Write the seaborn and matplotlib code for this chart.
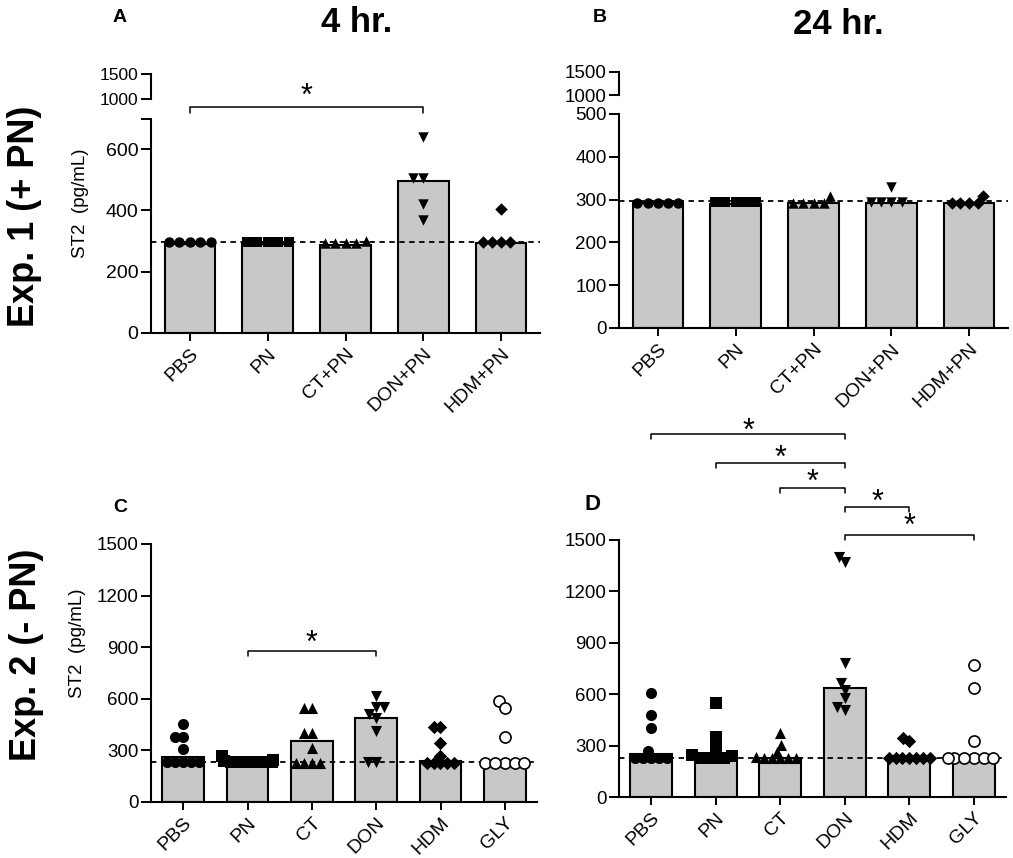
import matplotlib
matplotlib.use("Agg")
import matplotlib.pyplot as plt
import seaborn as sns

sns.set_style("ticks")
plt.rcParams["font.family"] = ["Liberation Sans", "DejaVu Sans"]
plt.rcParams.update({"text.color": "black", "axes.labelcolor": "black",
                     "xtick.color": "black", "ytick.color": "black",
                     "axes.edgecolor": "black"})

# ---------------- data ----------------
cats_exp1 = ["PBS", "PN", "CT+PN", "DON+PN", "HDM+PN"]
cats_exp2 = ["PBS", "PN", "CT", "DON", "HDM", "GLY"]

# Panel A (Exp. 1, 4 hr)
a_bars = [291, 290, 288, 497, 292]
a_pbs = [297, 297, 297, 297, 297]
a_pn = [297, 297, 297, 297, 297]
a_ct = [300, 293, 293, 293, 293]
a_don = [640, 505, 505, 420, 368]
a_hdm = [403, 297, 297, 297, 297]
a_baseline = 297

# Panel B (Exp. 1, 24 hr)
b_bars = [293, 290, 293, 293, 293]
b_pbs = [293, 293, 293, 293, 293]
b_pn = [295, 295, 295, 295, 295]
b_ct = [308, 291, 291, 291, 291]
b_don = [330, 295, 295, 295, 295]
b_hdm = [308, 293, 293, 293, 293]
b_baseline = 297

# Panel C (Exp. 2, 4 hr)
c_bars = [262, 245, 355, 488, 238, 235]
c_pbs = [453, 378, 378, 308, 232, 232, 232, 232, 232]
c_pn = [270, 245, 240, 235, 235, 232, 232, 232, 232]
c_ct = [545, 545, 400, 400, 314, 227, 227, 227, 227]
c_don = [616, 550, 550, 512, 488, 413, 232, 232]
c_hdm = [438, 438, 343, 267, 227, 227, 227, 227, 227]
c_gly = [589, 547, 378, 228, 228, 228, 228, 228]
c_baseline = 235

# Panel D (Exp. 2, 24 hr)
d_bars = [249, 240, 230, 635, 232, 232]
d_pbs = [605, 479, 401, 270, 230, 230, 230, 230, 230]
d_pn = [547, 352, 278, 245, 240, 230, 230, 230, 230]
d_ct = [375, 303, 265, 235, 225, 225, 225, 225, 225]
d_don = [1403, 1370, 780, 664, 625, 580, 527, 508]
d_hdm = [346, 329, 230, 230, 230, 230, 230, 230, 230]
d_gly = [770, 635, 329, 230, 230, 230, 230, 230, 230]
d_baseline = 230

# significance comparisons (category index pairs)
a_sig = [(0, 3)]
c_sig = [(1, 3)]
d_sig = [(0, 3), (1, 3), (2, 3), (3, 4), (3, 5)]

# ---------------- figure ----------------
W, H = 1013, 858
fig = plt.figure(figsize=(W / 100, H / 100), dpi=100)


def px_axes(left, right, top, bottom):
    return fig.add_axes([left / W, 1 - bottom / H, (right - left) / W, (bottom - top) / H])


markers = ["o", "s", "^", "v", "D", "o"]
BAR_COLOR = "#c8c8c8"
swarm_scale = []  # (collection, factor) pairs to enlarge markers after swarm layout


def style_axes(ax, fs, xfs=14):
    sns.despine(ax=ax)
    for s in ("left", "bottom"):
        ax.spines[s].set_linewidth(1.5)
    ax.tick_params(axis="y", length=7, width=1.4, labelsize=fs, direction="out", pad=2)
    ax.tick_params(axis="x", length=6, width=1.4, labelsize=xfs, direction="out", pad=3)


def draw_panel(ax, cats, bars, groups, baseline, layout_size, render_size):
    sns.barplot(x=cats, y=bars, order=cats, color=BAR_COLOR, edgecolor="black",
                linewidth=1.5, width=0.65, saturation=1, ax=ax, zorder=1)
    ax.axhline(baseline, color="black", lw=1.3, ls=(0, (3, 2.5)), zorder=3)
    for i, (cat, vals) in enumerate(zip(cats, groups)):
        m = markers[i]
        shrink = 0.85 if m == "D" else 1.0
        n_before = len(ax.collections)
        if cat == "GLY":
            sns.swarmplot(x=[cat] * len(vals), y=vals, order=cats, marker="o",
                          color="white", edgecolor="black", linewidth=1.2,
                          size=layout_size * shrink, ax=ax, warn_thresh=1, zorder=4)
        else:
            sns.swarmplot(x=[cat] * len(vals), y=vals, order=cats, marker=m,
                          color="black", size=layout_size * shrink, ax=ax,
                          warn_thresh=1, zorder=4)
        for coll in ax.collections[n_before:]:
            swarm_scale.append((coll, render_size / layout_size))
    ax.set_xlim(-0.5, len(cats) - 0.5)
    ax.set_xlabel("")
    ax.set_ylabel("")
    ax.set_xticks(range(len(cats)))
    ax.set_xticklabels(cats, rotation=45, ha="right", rotation_mode="anchor")


def bracket(ax, x1, x2, y, h, ystar):
    ax.plot([x1, x1, x2, x2], [y - h, y, y, y - h], color="black", lw=1.1,
            clip_on=False, zorder=5)
    ax.text((x1 + x2) / 2, ystar, "*", ha="center", va="center", fontsize=22,
            clip_on=False)


def upper_break(ax_low, left, right, top, bottom, fs):
    axu = px_axes(left, right, top, bottom)
    axu.set_ylim(1000, 1500)
    axu.set_yticks([1000, 1500])
    axu.set_xlim(ax_low.get_xlim())
    axu.set_xticks([])
    for s in ("top", "right", "bottom"):
        axu.spines[s].set_visible(False)
    axu.spines["left"].set_linewidth(1.5)
    axu.tick_params(axis="y", length=7, width=1.4, labelsize=fs, pad=2)
    axu.patch.set_alpha(0)
    return axu


# Panel A
axA = px_axes(151, 540, 118.7, 332.7)
draw_panel(axA, cats_exp1, a_bars, [a_pbs, a_pn, a_ct, a_don, a_hdm], a_baseline, 7.2, 7.5)
axA.set_ylim(0, 700)
axA.set_yticks([0, 200, 400, 600, 700])
axA.set_yticklabels(["0", "200", "400", "600", ""])
style_axes(axA, 14)
upper_break(axA, 151, 540, 74, 99, 12.5)
for x1, x2 in a_sig:
    bracket(axA, x1, x2, 738, 20, 770)

# Panel B
axB = px_axes(619, 1008, 114, 328)
draw_panel(axB, cats_exp1, b_bars, [b_pbs, b_pn, b_ct, b_don, b_hdm], b_baseline, 7.0, 7.5)
axB.set_ylim(0, 500)
axB.set_yticks([0, 100, 200, 300, 400, 500])
style_axes(axB, 13.5)
upper_break(axB, 619, 1008, 72, 95, 13.5)

# Panel C
axC = px_axes(151, 537, 544, 802)
draw_panel(axC, cats_exp2, c_bars, [c_pbs, c_pn, c_ct, c_don, c_hdm, c_gly], c_baseline, 5.5, 8)
axC.set_ylim(0, 1500)
axC.set_yticks([0, 300, 600, 900, 1200, 1500])
style_axes(axC, 13.5)
for x1, x2 in c_sig:
    bracket(axC, x1, x2, 878, 28, 918)

# Panel D
axD = px_axes(619, 1006, 540, 797)
draw_panel(axD, cats_exp2, d_bars, [d_pbs, d_pn, d_ct, d_don, d_hdm, d_gly], d_baseline, 5.5, 8)
axD.set_ylim(0, 1500)
axD.set_yticks([0, 300, 600, 900, 1200, 1500])
style_axes(axD, 13.5)
d_levels = [(2119, 2131), (1950, 1975), (1804, 1833), (1693, 1716), (1529, 1576)]
for (x1, x2), (y, ys) in zip(d_sig, d_levels):
    bracket(axD, x1, x2, y, 30, ys)

# ---------------- texts ----------------
def ftext(x, y, s, **kw):
    fig.text(x / W, 1 - y / H, s, **kw)


ftext(120, 18, "A", fontsize=14, fontweight="bold", ha="center", va="center")
ftext(600, 18, "B", fontsize=14, fontweight="bold", ha="center", va="center")
ftext(120, 507, "C", fontsize=14, fontweight="bold", ha="center", va="center")
ftext(592, 505, "D", fontsize=16, fontweight="bold", ha="center", va="center")
ftext(357, 22, "4 hr.", fontsize=25, fontweight="bold", ha="center", va="center")
ftext(838, 25, "24 hr.", fontsize=25, fontweight="bold", ha="center", va="center")
ftext(24, 216, "Exp. 1 (+ PN)", fontsize=26, fontweight="bold", rotation=90,
      ha="center", va="center")
ftext(26, 655, "Exp. 2 (- PN)", fontsize=26, fontweight="bold", rotation=90,
      ha="center", va="center")
ftext(80, 203, "ST2  (pg/mL)", fontsize=13.5, rotation=90, ha="center", va="center")
ftext(77, 643, "ST2  (pg/mL)", fontsize=13.5, rotation=90, ha="center", va="center")

# lay out swarms at the compact size, then freeze positions and enlarge markers
fig.canvas.draw()
for coll, factor in swarm_scale:
    if "draw" in coll.__dict__:
        del coll.draw
    coll.set_sizes(coll.get_sizes() * factor ** 2)

fig.savefig("out.png", dpi=100)
